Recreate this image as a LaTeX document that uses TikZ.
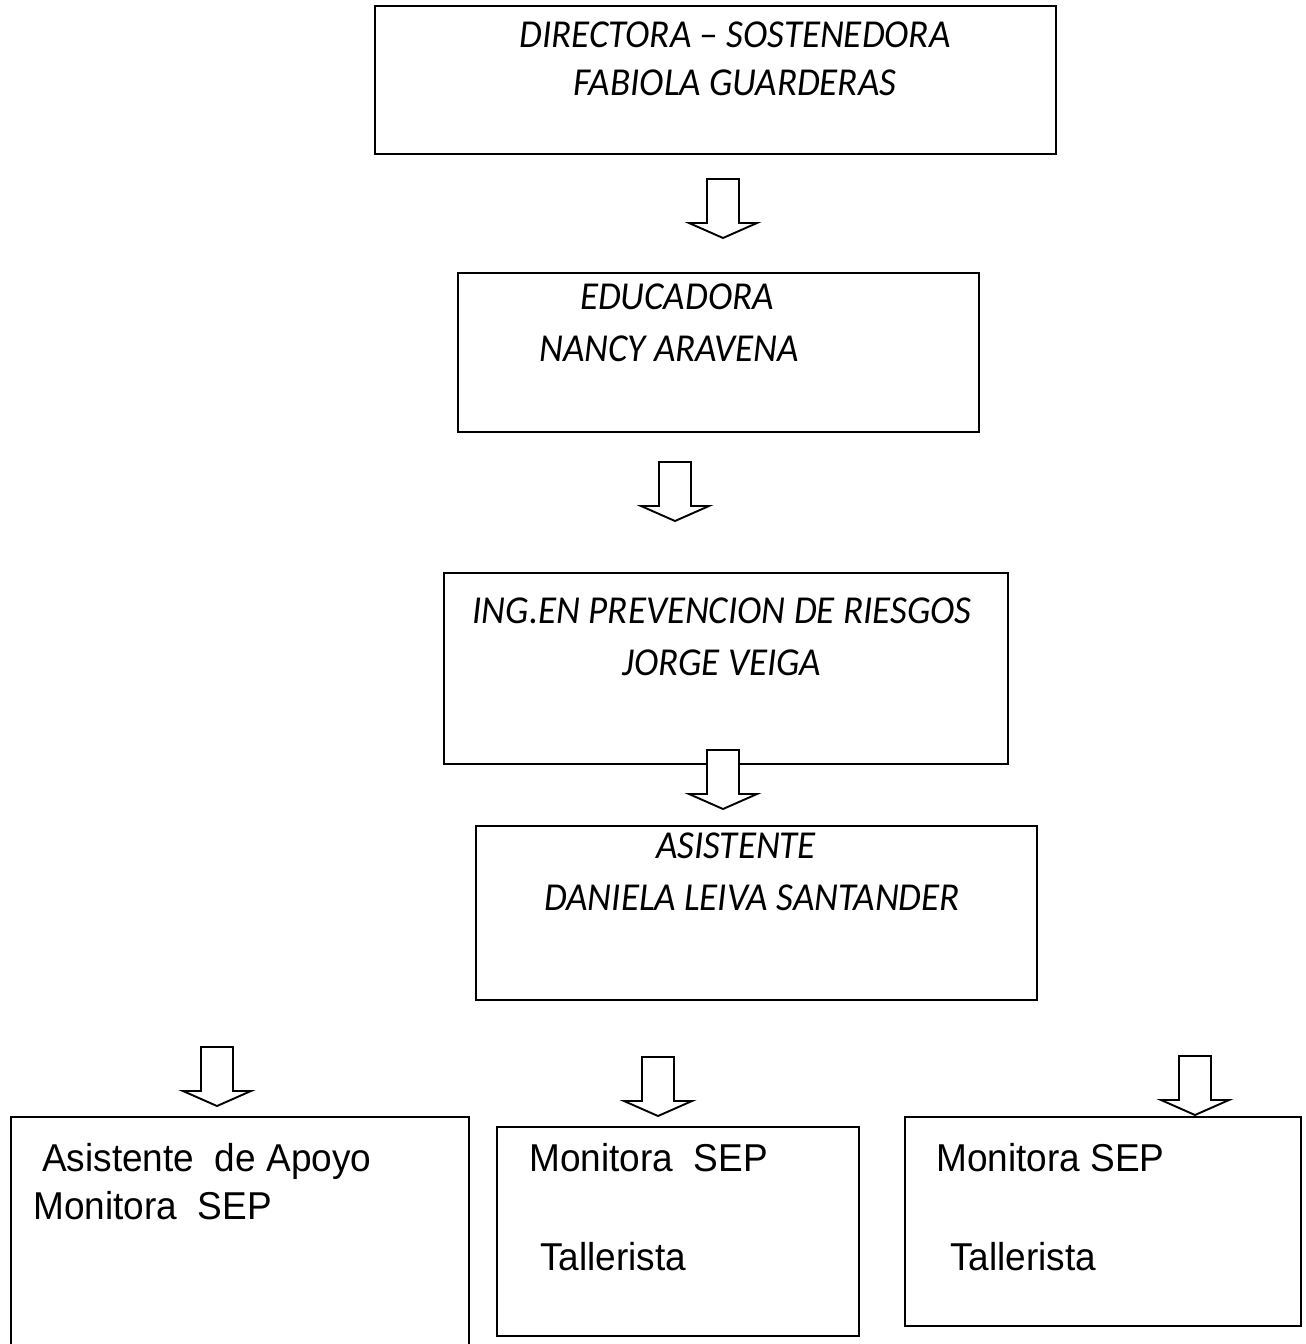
\documentclass[tikz,border=0pt]{standalone}
\usepackage{fontspec}
\setmainfont{Carlito}
\newfontfamily\arialfont{Liberation Sans}
\tikzset{
  box/.style={draw=black, line width=2pt, fill=none, anchor=north west, inner sep=0pt},
  itxt/.style={inner sep=0pt, anchor=base, yscale=1.07, transform shape, font=\fontsize{37}{44}\selectfont\itshape},
  atxt/.style={inner sep=0pt, anchor=base west, yscale=1.05, transform shape, font=\arialfont\fontsize{37}{42}\selectfont},
  arrowline/.style={draw=black, line width=1.9pt, fill=white, line join=miter},
  blockarrow/.pic={\draw[arrowline] (-16,0) -- (16,0) -- (16,44) -- (34,44) -- (0,59) -- (-34,44) -- (-16,44) -- cycle;}
}
\begin{document}
\begin{tikzpicture}[x=1pt,y=-1pt]
\useasboundingbox[fill=white] (0,0) rectangle (1306,1344);
% boxes
\node[box, minimum width=681, minimum height=148] (b1) at (374,5) {};
\node[box, minimum width=521, minimum height=159] (b2) at (457,272) {};
\node[box, minimum width=564, minimum height=191] (b3) at (443,572) {};
\node[box, minimum width=561, minimum height=174] (b4) at (475,825) {};
\node[box, minimum width=458, minimum height=240] (b5) at (10,1116) {};
\node[box, minimum width=362, minimum height=209] (b6) at (496,1126) {};
\node[box, minimum width=396, minimum height=209] (b7) at (904,1116) {};
% arrows
\pic (a1) at (723,179) {blockarrow};
\pic (a2) at (675,462) {blockarrow};
\pic (a3) at (723,750) {blockarrow};
\pic (a4) at (217,1047) {blockarrow};
\pic (a5) at (658,1057) {blockarrow};
\pic (a6) at (1195,1056) {blockarrow};
% texts
\node[itxt] (t1a) at (735,47) {DIRECTORA – SOSTENEDORA};
\node[itxt] (t1b) at (735,95) {FABIOLA GUARDERAS};
\node[itxt] (t2a) at (677,309) {EDUCADORA};
\node[itxt] (t2b) at (669,361) {NANCY ARAVENA};
\node[itxt] (t3a) at (722,623) {ING.EN PREVENCION DE RIESGOS};
\node[itxt] (t3b) at (722,675) {JORGE VEIGA};
\node[itxt] (t4a) at (736,858) {ASISTENTE};
\node[itxt] (t4b) at (752,910) {DANIELA LEIVA SANTANDER};
\node[atxt] (t5a) at (42,1171) {Asistente\ \ de Apoyo};
\node[atxt] (t5b) at (33,1219) {Monitora\ \ SEP};
\node[atxt] (t6a) at (529,1171) {Monitora\ \ SEP};
\node[atxt] (t6b) at (540,1270) {Tallerista};
\node[atxt] (t7a) at (936,1171) {Monitora SEP};
\node[atxt] (t7b) at (950,1270) {Tallerista};
\end{tikzpicture}
\end{document}
